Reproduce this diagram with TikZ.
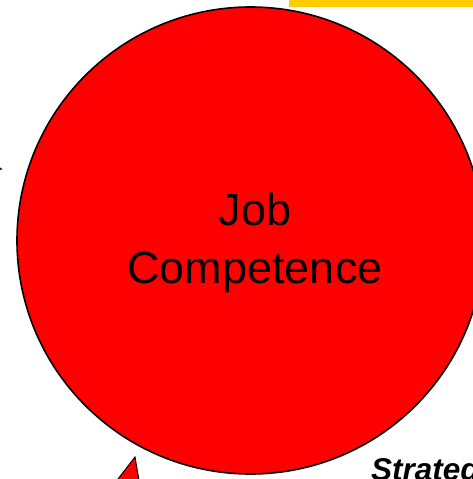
\documentclass[tikz,border=0pt]{standalone}
\usepackage{fontspec}
\setmainfont{Liberation Sans}
\usepackage{tikz}
\usetikzlibrary{arrows.meta,positioning}
\usepackage{xcolor}
\definecolor{ringred}{RGB}{255,0,0}
\definecolor{baryellow}{RGB}{255,204,0}

\begin{document}
\begin{tikzpicture}[
    x=1pt,y=-1pt,
    ring/.style={circle,draw,line width=1.6pt,fill=ringred,inner sep=0pt,minimum size=467pt},
    bighead/.style={draw,line width=1pt,fill=ringred,line join=miter},
    >=Stealth
]
\useasboundingbox (0,0) rectangle (473,479);
\clip (0,0) rectangle (473,479);

% yellow title bar
\fill[baryellow] (289,-5) rectangle (480,7);

\node[ring] (job) at (250.5,240.5) {};
\node[font=\fontsize{45}{58}\selectfont,align=center] (jobtext) at (255,243) {Job\\Competence};

% stub of the arrow coming in from the left
\coordinate (la) at (-10,165);
\coordinate (lb) at (2.5,169.5);
\draw[-{Stealth[length=4pt,width=3pt]},line width=0.6pt] (la) -- (lb);

% head of the red block arrow
\draw[bighead] (108,492) -- (135,457) -- (141,492) -- cycle;

\node[anchor=base west,font=\fontsize{31.5}{36}\selectfont\bfseries\itshape,inner sep=0pt] (strat) at (371,480.5) {Strategy};
\end{tikzpicture}
\end{document}
